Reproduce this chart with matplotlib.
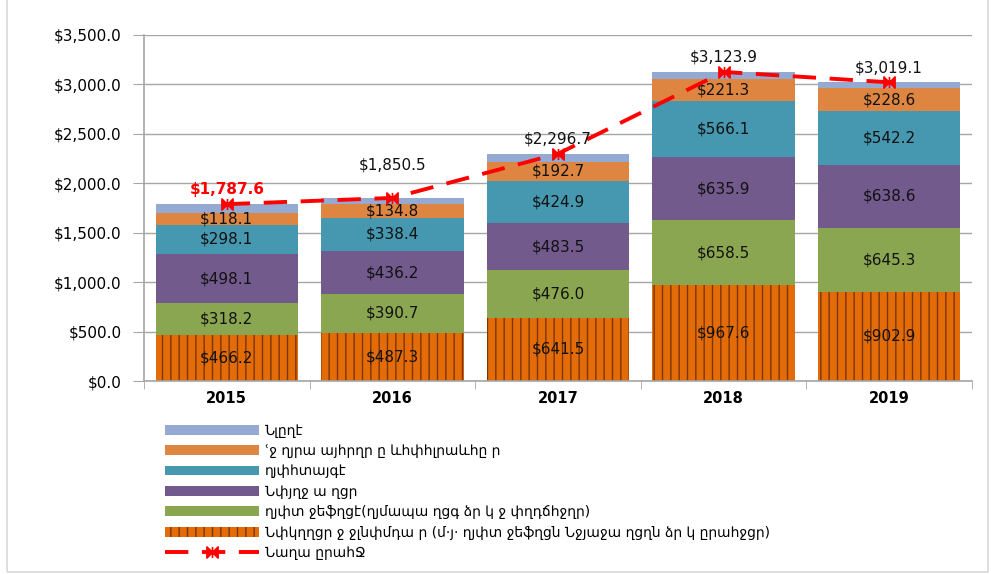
import numpy as np
import matplotlib
matplotlib.use("Agg")
import matplotlib.pyplot as plt
from matplotlib.path import Path
from matplotlib.patches import Rectangle
from matplotlib.ticker import FuncFormatter

years = ["2015", "2016", "2017", "2018", "2019"]

base = [466.2, 487.3, 641.5, 967.6, 902.9]
green = [318.2, 390.7, 476.0, 658.5, 645.3]
purple = [498.1, 436.2, 483.5, 635.9, 638.6]
teal = [298.1, 338.4, 424.9, 566.1, 542.2]
orange = [118.1, 134.8, 192.7, 221.3, 228.6]
other = [88.9, 63.1, 78.1, 74.5, 61.5]
total = [1787.6, 1850.5, 2296.7, 3123.9, 3019.1]

names = [
    "Նփկղղցր ջ ջլնփմդա ր (մ·յ· ղյփտ ջեֆղցն Նջյաջա ղցղն ձր կ ըրահջցր)",
    "ղյփտ ջեֆղցէ(ղյմապա ղցգ ձր կ ջ փղդճհջղր)",
    "Նփյղջ ա ղցր",
    "ղյփհտայգէ",
    "ՙջ ղյրա այհրղր ը ևհփհլրաևհը ր",
    "Նլըղէ",
]
total_name = "Նաղա ըրահՋ"

series = [base, green, purple, teal, orange, other]
colors = ["#E36C09", "#8BA650", "#735A8D", "#4598B0", "#DE8641", "#95AAD2"]

fig = plt.figure(figsize=(9.91, 5.74), dpi=100)
ax = fig.add_axes([0.1453, 0.3362, 0.8355, 0.6033])

x = np.arange(len(years))
bottom = np.zeros(len(years))
handles = []
for i, (vals, col) in enumerate(zip(series, colors)):
    if i == 0:
        b = ax.bar(x, vals, 0.86, bottom=bottom, color=col, edgecolor="#7A3606",
                   linewidth=0, hatch="||", zorder=2)
    else:
        b = ax.bar(x, vals, 0.86, bottom=bottom, color=col, linewidth=0, zorder=2)
    handles.append(b)
    if i < 5:
        for xi, v, bt in zip(x, vals, bottom):
            ax.text(xi, bt + v / 2, f"${v:,.1f}", ha="center", va="center",
                    fontsize=11, color="#111111", zorder=4)
    bottom += np.array(vals)

# bowtie marker with bar
verts = [(-1, -1), (0, 0), (-1, 1), (-1, -1),
         (1, -1), (0, 0), (1, 1), (1, -1),
         (0, -1), (0, 1)]
codes = [Path.MOVETO, Path.LINETO, Path.LINETO, Path.CLOSEPOLY,
         Path.MOVETO, Path.LINETO, Path.LINETO, Path.CLOSEPOLY,
         Path.MOVETO, Path.LINETO]
bowtie = Path(verts, codes)

line, = ax.plot(x, total, color="#FF0000", lw=2.8, dashes=(6, 3.5),
                marker=bowtie, markersize=8, markerfacecolor="#FF0000",
                markeredgecolor="#FF0000", markeredgewidth=1.2, zorder=5)

offsets = [15, 33, 15, 15, 14]
for i, (xi, v) in enumerate(zip(x, total)):
    red = i == 0
    ax.annotate(f"${v:,.1f}", (xi, v), xytext=(0, offsets[i]), textcoords="offset pixels",
                ha="center", va="center", fontsize=11,
                color="#FF0000" if red else "#111111",
                fontweight="bold" if red else "normal", zorder=6)

ax.set_xlim(-0.5, 4.5)
ax.set_ylim(0, 3500)
ax.set_yticks(np.arange(0, 3501, 500))
ax.yaxis.set_major_formatter(FuncFormatter(lambda v, p: f"${v:,.1f}"))
ax.set_xticks(x)
ax.set_xticklabels(years, fontweight="bold", fontsize=10.5)
ax.set_xticks(np.arange(-0.5, 5, 1), minor=True)
ax.tick_params(axis="x", which="major", length=0, pad=7)
ax.tick_params(axis="x", which="minor", length=6, color="#A6A6A6", direction="out")
ax.tick_params(axis="y", length=8, color="#A6A6A6", labelsize=11, pad=8)

ax.grid(axis="y", color="#A6A6A6", lw=1, zorder=0)
ax.set_axisbelow(True)
for s in ["top", "right"]:
    ax.spines[s].set_visible(False)
ax.spines["left"].set_color("#A6A6A6")
ax.spines["bottom"].set_color("#A6A6A6")
ax.spines["left"].set_linewidth(1.2)
ax.spines["bottom"].set_linewidth(1.2)

leg_handles = handles[::-1] + [line]
leg_labels = names[::-1] + [total_name]
fig.legend(leg_handles, leg_labels, loc="upper left", bbox_to_anchor=(0.166, 0.262),
           frameon=False, fontsize=10, handlelength=6.8, handleheight=0.7,
           labelspacing=0.46, handletextpad=0.45, borderpad=0, borderaxespad=0)

fig.patches.append(Rectangle((0.007, 0.004), 0.99, 1.2, transform=fig.transFigure,
                             fill=False, edgecolor="#D9D9D9", lw=1.2))

fig.savefig("out.png", dpi=100)
